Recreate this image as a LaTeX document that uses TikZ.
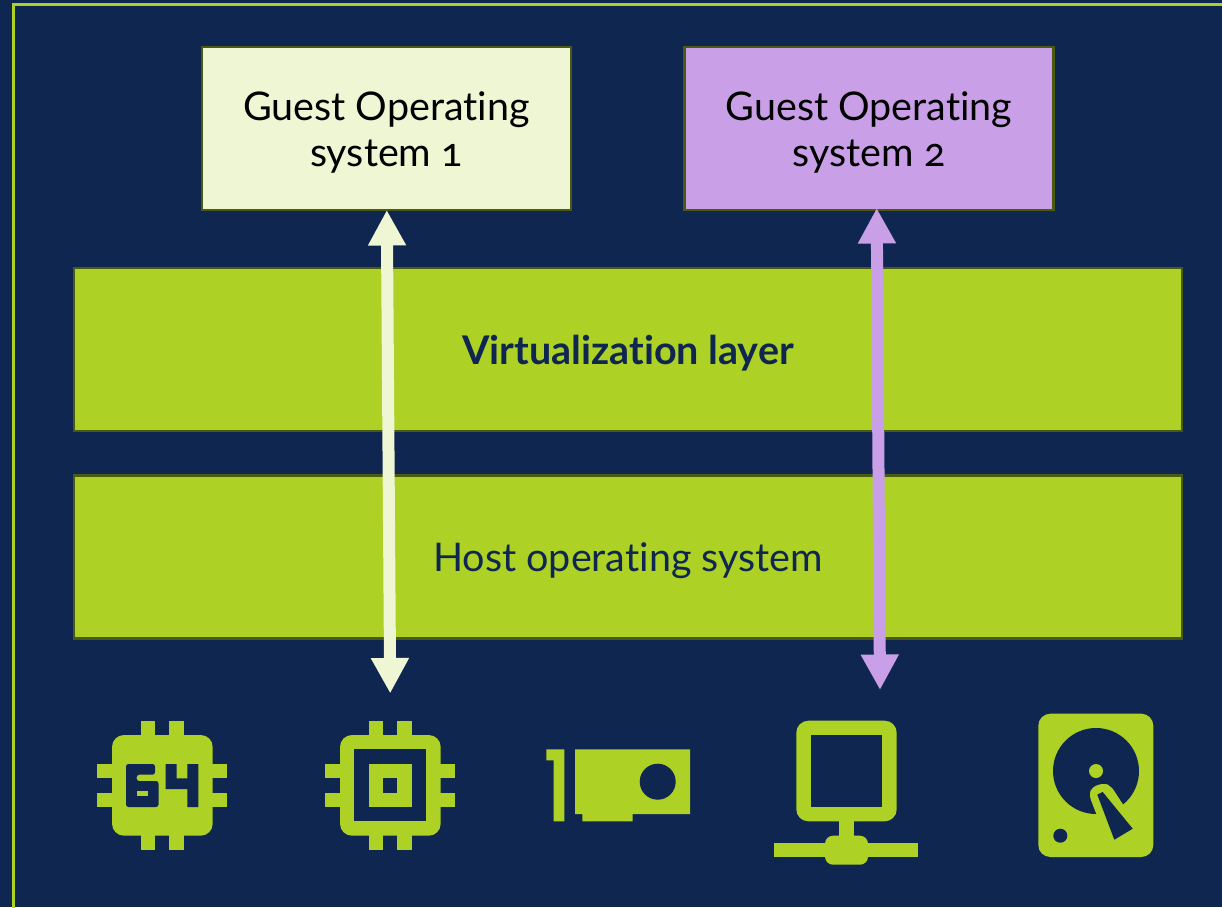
\documentclass[tikz,border=0pt]{standalone}
\usepackage{fontspec}
\setmainfont{Lato}[Ligatures=NoCommon,Numbers=OldStyle]
\usetikzlibrary{arrows.meta}
\definecolor{bg}{HTML}{0F2650}
\definecolor{lime}{HTML}{ADD124}
\definecolor{pale}{HTML}{EFF6D3}
\definecolor{lilac}{HTML}{C9A0E8}
\definecolor{edge}{HTML}{4A5A10}
\newcommand{\dropstrut}{\rule{0pt}{36pt}}
\tikzset{
  guestbox/.style={draw=edge,line width=2.5pt,minimum width=369pt,minimum height=163pt,inner sep=0pt,align=center,text=black,font=\fontsize{39.5}{46}\selectfont},
  layerbox/.style={draw=edge,line width=2.5pt,fill=lime,minimum width=1108pt,minimum height=163pt,inner sep=0pt,align=center,text=bg,font=\fontsize{39.5}{46}\selectfont},
  link/.style={line width=12pt,{Triangle[width=35.7pt,length=35.5pt]}-{Triangle[width=35.7pt,length=35.5pt]}},
  ico/.style={fill=lime,draw=none},
  hole/.style={fill=bg,draw=none}
}
\newcommand{\chipbase}[1]{%
  \fill[ico,rounded corners=12pt] (#1+112,735) rectangle (#1+212.7,835.7);
  \fill[ico] (#1+140.7,720.7) rectangle (#1+155,850);
  \fill[ico] (#1+169.3,720.7) rectangle (#1+183.7,850);
  \fill[ico] (#1+97.3,764) rectangle (#1+227,778.3);
  \fill[ico] (#1+97.3,792.7) rectangle (#1+227,807);
}
\begin{document}
\begin{tikzpicture}[x=1pt,y=-1pt]
\useasboundingbox (0,0) rectangle (1222,907);
\fill[bg] (0,0) rectangle (1222,907);
\draw[lime,line width=3pt] (13.8,930) -- (13.8,4.8) -- (1240,4.8);

\node[guestbox,fill=pale] (g1) at (386.5,128.5) {\dropstrut Guest Operating\\system 1};
\node[guestbox,fill=lilac] (g2) at (869,128.5) {\dropstrut Guest Operating\\system 2};
\node[layerbox,font=\fontsize{39.5}{46}\selectfont\bfseries] (virt) at (628,349.5) {\dropstrut Virtualization layer};
\node[layerbox] (host) at (628,557) {\dropstrut Host operating system};

\coordinate (a1t) at (386.8,210);
\coordinate (a1b) at (390.2,693.5);
\coordinate (a2t) at (876.7,208);
\coordinate (a2b) at (880,690);
\draw[link,pale] (a1t) -- (a1b);
\draw[link,lilac] (a2t) -- (a2b);

% chip 64
\chipbase{0}
\fill[hole,rounded corners=2.5pt] (126,764) -- (155,764) -- (155,774.7) -- (136.7,774.7) -- (136.7,781) -- (158.5,781) -- (158.5,807) -- (126,807) -- cycle;
\fill[ico] (137.3,790.7) rectangle (148,796.3);
\fill[hole] (165.7,764) -- (176.7,764) -- (176.7,778.3) -- (187.3,778.3) -- (187.3,764) -- (198.3,764) -- (198.3,807) -- (187.3,807) -- (187.3,789) -- (165.7,789) -- cycle;

% chip plain
\chipbase{228}
\fill[hole] (354,749.3) rectangle (426,821.3);
\fill[ico] (368.7,764) rectangle (412,807);
\fill[hole] (383,778.3) rectangle (397.3,792.7);

% card
\fill[ico] (546.3,749.3) -- (564.3,749.3) -- (564.3,821.3) -- (553.7,821.3) -- (553.7,760.3) -- (546.3,760.3) -- cycle;
\fill[ico] (575,749.3) -- (690,749.3) -- (690,814) -- (632.7,814) -- (632.7,821.3) -- (582.3,821.3) -- (582.3,814) -- (575,814) -- cycle;
\fill[hole] (657.7,781.7) circle (18pt);

% network
\fill[ico,rounded corners=12pt] (796.3,720.7) rectangle (896.7,821.3);
\fill[hole] (810.7,735) rectangle (882.3,807);
\fill[ico] (839.3,821) rectangle (853.7,840);
\fill[ico] (774.3,843) rectangle (918.3,857.3);
\fill[ico,rounded corners=8pt] (825,835.7) rectangle (868,864.7);

% disk
\fill[ico,rounded corners=12pt] (1038.3,713.7) rectangle (1153.3,857);
\fill[hole] (1096,771) circle (43pt);
\fill[ico] (1096,771) circle (7pt);
\fill[hole] (1060.3,835.7) circle (7pt);
\fill[ico,rounded corners=5pt] (1096.7,815) -- (1089,795) -- (1092,787) -- (1104,783) -- (1111,786) -- (1123.3,805) -- (1140,825) -- (1110,840) -- cycle;
\fill[hole] (1097.3,794.7) -- (1102.7,792) -- (1132.7,828.7) -- (1114.3,839.7) -- cycle;
\end{tikzpicture}
\end{document}
